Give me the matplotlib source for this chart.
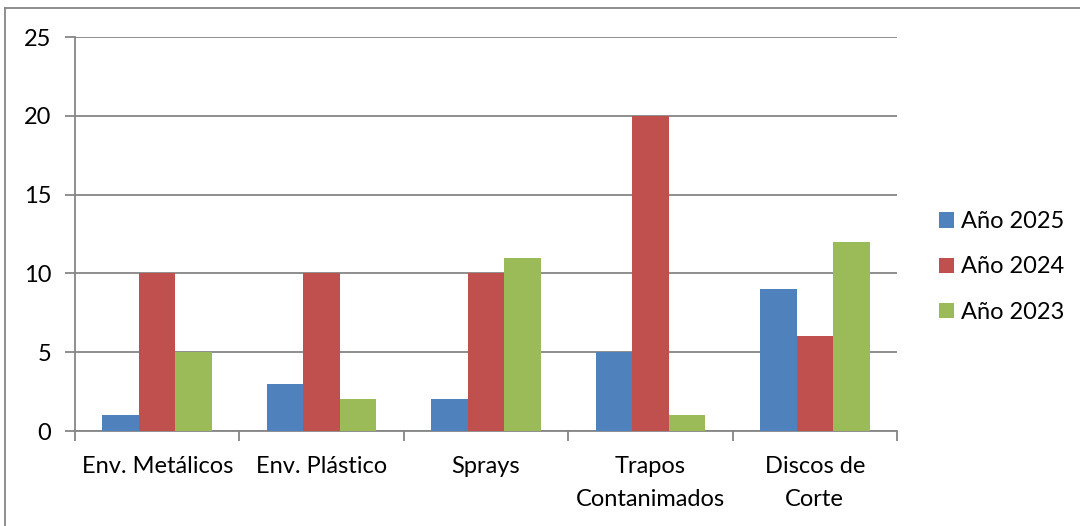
import numpy as np
import matplotlib.pyplot as plt
from matplotlib.lines import Line2D
from matplotlib.patches import Patch

categories = ["Env. Metálicos", "Env. Plástico", "Sprays", "Trapos\nContanimados", "Discos de\nCorte"]
series_names = ["Año 2025", "Año 2024", "Año 2023"]
values_2025 = [1, 3, 2, 5, 9]
values_2024 = [10, 10, 10, 20, 6]
values_2023 = [5, 2, 11, 1, 12]
y_ticks = [0, 5, 10, 15, 20, 25]

colors = ["#4F81BD", "#C0504D", "#9BBB59"]
grey = "#868686"

plt.rcParams['font.family'] = ['Lato', 'DejaVu Sans']
fs = 17

fig = plt.figure(figsize=(10.8, 5.26), dpi=100)
ax = fig.add_axes([75 / 1080, 1 - 431 / 526, (897 - 75) / 1080, (431 - 37) / 526])

x = np.arange(len(categories))
w = 1 / 4.5
for i, vals in enumerate([values_2025, values_2024, values_2023]):
    ax.bar(x + (i - 1) * w, vals, width=w, color=colors[i], zorder=3)

ax.set_xlim(-0.5, len(categories) - 0.5)
ax.set_ylim(0, 25)
ax.set_yticks(y_ticks)
ax.set_yticklabels([str(t) for t in y_ticks], fontsize=fs)
ax.yaxis.grid(True, color=grey, linewidth=1.3, zorder=0)
ax.tick_params(axis='y', length=7, width=1.3, color=grey, pad=10)

# category labels centered, ticks at boundaries
ax.set_xticks(x)
ax.set_xticklabels(categories, fontsize=fs, linespacing=1.7)
ax.tick_params(axis='x', length=0, pad=18)
ax.set_xticks(np.arange(-0.5, len(categories)), minor=True)
ax.tick_params(axis='x', which='minor', length=7, width=1.3, color=grey)

for s in ['top', 'right']:
    ax.spines[s].set_visible(False)
for s in ['left', 'bottom']:
    ax.spines[s].set_color(grey)
    ax.spines[s].set_linewidth(1.3)

handles = [Patch(facecolor=c) for c in colors]
fig.legend(handles, series_names, loc='center left', bbox_to_anchor=(918 / 1080, 1 - 267 / 526),
           frameon=False, fontsize=fs, handlelength=0.62, handleheight=0.62,
           handletextpad=0.3, labelspacing=1.02)

# outer chart border (left and top visible)
fig.add_artist(Line2D([5 / 1080, 5 / 1080], [0, 1 - 8 / 526], transform=fig.transFigure,
                      color=grey, linewidth=1.3))
fig.add_artist(Line2D([5 / 1080, 1], [1 - 8 / 526, 1 - 8 / 526], transform=fig.transFigure,
                      color=grey, linewidth=1.3))

fig.savefig("out.png", dpi=100)
